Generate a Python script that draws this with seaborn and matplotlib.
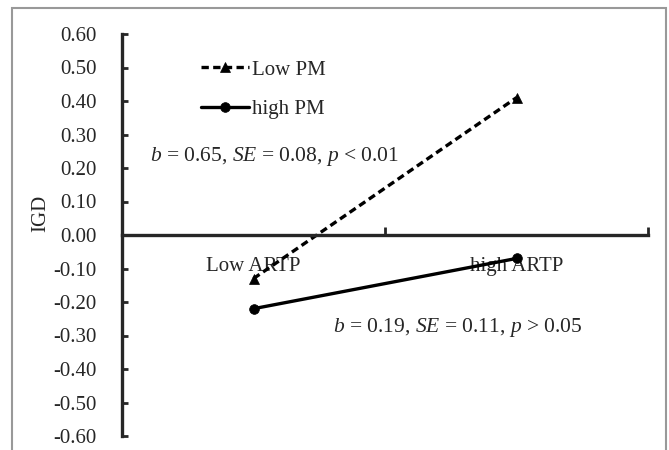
import seaborn as sns
import pandas as pd
import matplotlib.pyplot as plt
from matplotlib.patches import Rectangle
from matplotlib.ticker import FixedLocator

# values
conditions = ["Low ARTP", "high ARTP"]
groups = ["Low PM", "high PM"]
low_pm = [-0.13, 0.41]
high_pm = [-0.22, -0.07]
y_ticks = [-0.6, -0.5, -0.4, -0.3, -0.2, -0.1, 0.0, 0.1, 0.2, 0.3, 0.4, 0.5, 0.6]
note_low = r"$b$ = 0.65, $SE$ = 0.08, $p$ < 0.01"
note_high = r"$b$ = 0.19, $SE$ = 0.11, $p$ > 0.05"

df = pd.DataFrame({
    "ARTP": conditions * 2,
    "PM": [groups[0]] * 2 + [groups[1]] * 2,
    "IGD": low_pm + high_pm,
})

sns.set_style("white")
plt.rcParams["font.family"] = ["Liberation Serif", "DejaVu Serif"]
plt.rcParams["mathtext.fontset"] = "custom"
plt.rcParams["mathtext.rm"] = "Liberation Serif"
plt.rcParams["mathtext.it"] = "Liberation Serif:italic"

fig = plt.figure(figsize=(6.69, 4.5), dpi=100)
ax = fig.add_axes([122 / 669, 1 - 436 / 450, 526 / 669, 402 / 450])

sns.pointplot(data=df, x="ARTP", y="IGD", hue="PM", order=conditions,
              hue_order=groups, palette=["black", "black"],
              markers=["^", "o"], linestyles=[(0, (2.2, 1.3)), "-"],
              markersize=7, markeredgewidth=0.5, linewidth=2.4, ax=ax)

ax.set_xlim(-0.5, 1.5)
ax.set_ylim(-0.6, 0.6)
ax.set_yticks(y_ticks)
ax.set_yticklabels([f"{v:.2f}" for v in y_ticks])

# frame like the Excel chart: y axis on the left, x axis crossing at zero
for side in ["top", "right"]:
    ax.spines[side].set_visible(False)
ax.spines["left"].set_linewidth(2.4)
ax.spines["bottom"].set_linewidth(2.4)
ax.spines["bottom"].set_position(("data", 0))

ax.tick_params(axis="y", left=True, direction="in", length=4.5, width=2,
               pad=18, labelsize=15)
ax.tick_params(axis="x", which="major", length=0, pad=16, labelsize=15)
ax.xaxis.set_minor_locator(FixedLocator([0.5, 1.5]))
ax.tick_params(axis="x", which="minor", bottom=True, direction="in",
               length=6, width=2)

ax.set_xlabel("")
ax.set_ylabel("IGD", fontsize=15)
ax.yaxis.set_label_coords(-0.137, 0.555)

leg = ax.legend(loc="upper left", bbox_to_anchor=(0.115, 0.982), frameon=False,
                fontsize=15, handlelength=2.3, handletextpad=0.15,
                labelspacing=0.97)

ax.text(0.053, 0.695, note_low, transform=ax.transAxes, fontsize=15.5,
        ha="left", va="center")
ax.text(0.401, 0.271, note_high, transform=ax.transAxes, fontsize=15.5,
        ha="left", va="center")

# thin grey chart border
fig.patches.append(Rectangle((12 / 669, -0.1), 654 / 669, 1 - 8 / 450 + 0.1,
                             transform=fig.transFigure, fill=False,
                             edgecolor="#999999", linewidth=1.5))

fig.savefig("out.png", dpi=100)
